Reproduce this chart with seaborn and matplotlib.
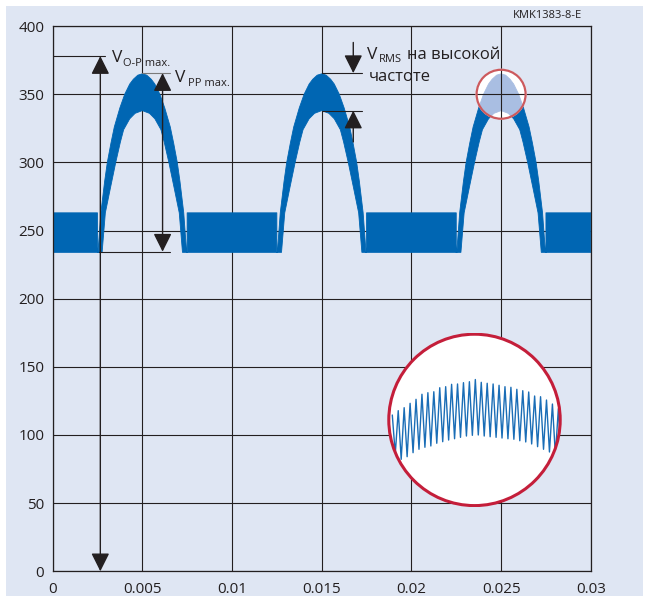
import numpy as np
import pandas as pd
import matplotlib
matplotlib.use("Agg")
import matplotlib.pyplot as plt
import seaborn as sns
from matplotlib.patches import Circle, Rectangle
from matplotlib.transforms import ScaledTranslation

# ---------------- data ----------------
x_ticks = [0, 0.005, 0.01, 0.015, 0.02, 0.025, 0.03]
x_tick_labels = ["0", "0.005", "0.01", "0.015", "0.02", "0.025", "0.03"]
y_ticks = [0, 50, 100, 150, 200, 250, 300, 350, 400]
y_tick_labels = ["0", "50", "100", "150", "200", "250", "300", "350", "400"]

hump_centers = [0.005, 0.015, 0.025]
flat_high = 263
flat_low = 234
flat_edge = 0.0025

# half-profile of the hump envelopes (offset from hump centre -> voltage)
upper_half_offsets = [0.00247, 0.00231, 0.0021, 0.00195, 0.00175, 0.00156, 0.00125,
                      0.00098, 0.0007, 0.0005, 0.00025, 0.0]
upper_half_values = [234, 263, 286, 300, 314, 326, 340, 350, 357.5, 361, 364, 365]
lower_half_offsets = [0.00224, 0.00206, 0.00178, 0.00148, 0.00122, 0.00104, 0.0007,
                      0.0004, 0.0]
lower_half_values = [234, 263, 281, 300, 315, 324, 332, 336, 338]

# magnified ripple in the inset (relative units, -1..1 across the circle)
zoom_peaks = [0.056, 0.106, 0.140, 0.190, 0.236, 0.294, 0.312, 0.323, 0.369, 0.381,
              0.408, 0.412, 0.427, 0.438, 0.463, 0.431, 0.420, 0.412, 0.397, 0.381,
              0.374, 0.351, 0.335, 0.320, 0.274, 0.266, 0.228, 0.182, 0.128]
zoom_troughs = [-0.391, -0.452, -0.422, -0.376, -0.337, -0.314, -0.299, -0.268, -0.250,
                -0.231, -0.216, -0.200, -0.185, -0.177, -0.173, -0.185, -0.193, -0.200,
                -0.208, -0.216, -0.222, -0.239, -0.253, -0.276, -0.307, -0.337, -0.368,
                -0.403, -0.437]

# full symmetric profiles
upper_offsets = [-d for d in upper_half_offsets] + upper_half_offsets[::-1][1:]
upper_values = upper_half_values + upper_half_values[::-1][1:]
lower_offsets = [-d for d in lower_half_offsets] + lower_half_offsets[::-1][1:]
lower_values = lower_half_values + lower_half_values[::-1][1:]

# ---------------- style ----------------
BG = "#dfe6f3"
INK = "#231f20"
BLUE = "#0066b3"
LIGHT = "#a9bee2"

sns.set_theme(style="white")
plt.rcParams["font.family"] = ["Open Sans", "DejaVu Sans"]

W, H, DPI = 649, 601, 100
fig = plt.figure(figsize=(W / DPI, H / DPI), dpi=DPI, facecolor="white")
fig.patches.append(Rectangle((6 / W, 5 / H), 637 / W, 590 / H, transform=fig.transFigure,
                             facecolor=BG, edgecolor="none", zorder=-10))

ax = fig.add_axes([52.6 / W, 1 - 571.3 / H, 538.2 / W, 545.2 / H])
ax.set_facecolor(BG)
ax.set_xlim(0, 0.03)
ax.set_ylim(0, 400)
ax.set_xticks(x_ticks, x_tick_labels)
ax.set_yticks(y_ticks, y_tick_labels)
ax.tick_params(length=0, labelsize=11, labelcolor=INK)
ax.tick_params(axis="x", pad=8)
ax.tick_params(axis="y", pad=6)
ax.set_axisbelow(True)
ax.grid(True, color=INK, lw=0.8)
for s in ax.spines.values():
    s.set_color(INK)
    s.set_linewidth(0.9)
    s.set_visible(True)


# ---------------- band (signal envelope) ----------------
def hump_upper(c):
    xs = [c - flat_edge, c - flat_edge] + [c + d for d in upper_offsets] + [c + flat_edge, c + flat_edge]
    ys = [flat_high, flat_low] + upper_values + [flat_low, flat_high]
    return xs, ys


def hump_lower(c):
    xs = [c + flat_edge] + [c + d for d in lower_offsets[::-1]] + [c - flat_edge]
    ys = [flat_low] + lower_values[::-1] + [flat_low]
    return xs, ys


px_, py_ = [0.0], [flat_high]
for c in hump_centers:
    xs, ys = hump_upper(c)
    px_ += xs
    py_ += ys
px_ += [0.03, 0.03]
py_ += [flat_high, flat_low]
for c in hump_centers[::-1]:
    xs, ys = hump_lower(c)
    px_ += xs
    py_ += ys
px_.append(0.0)
py_.append(flat_low)
ax.fill(px_, py_, facecolor=BLUE, edgecolor=BLUE, lw=0.6, joinstyle="round", zorder=2)

# ---------------- small magnifier circle on third hump ----------------
mark_c = hump_centers[2]
mark_v = 350
r_in = 24.5 / DPI
trans = fig.dpi_scale_trans + ScaledTranslation(mark_c, mark_v, ax.transData)
ax.add_patch(Circle((0, 0), r_in + 0.01, transform=trans, facecolor="white",
                    edgecolor="none", zorder=2.05))
clip_c = Circle((0, 0), r_in, transform=trans)
ux, uy = [mark_c + d for d in upper_offsets], list(upper_values)
lx, ly = [mark_c + d for d in lower_offsets[::-1]], lower_values[::-1]
lp = ax.fill(ux + lx, uy + ly, facecolor=LIGHT, edgecolor=LIGHT, lw=0.6, zorder=2.1)[0]
lp.set_clip_path(clip_c)
for xt in x_ticks:
    ln = ax.axvline(xt, color=INK, lw=0.8, zorder=2.15)
    ln.set_clip_path(clip_c)
for yt in y_ticks:
    ln = ax.axhline(yt, color=INK, lw=0.8, zorder=2.15)
    ln.set_clip_path(clip_c)
ax.add_patch(Circle((0, 0), r_in, transform=trans, fill=False, edgecolor="#cc5a5e",
                    lw=1.6, zorder=2.3))

# ---------------- annotations ----------------
aprops = dict(arrowstyle="<|-|>,head_length=0.4,head_width=0.2", mutation_scale=28,
              lw=1.0, color=INK, shrinkA=0, shrinkB=0)
sprops = dict(arrowstyle="-|>,head_length=0.4,head_width=0.2", mutation_scale=28,
              lw=1.0, color=INK, shrinkA=0, shrinkB=0)

# V O-P max
ax.plot([0, 0.00292], [378, 378], color=INK, lw=0.8, zorder=3)
ax.annotate("", xy=(0.00266, 0), xytext=(0.00266, 378), arrowprops=aprops, zorder=3)
ax.text(0.00331, 374, "V", fontsize=12.5, color=INK, ha="left", va="baseline", zorder=4)
ax.text(0.00395, 370.9, "O-P max.", fontsize=8, color=INK, ha="left", va="baseline", zorder=4)

# V PP max
ax.plot([0.005, 0.00654], [365.5, 365.5], color="#7a7a7a", lw=0.8, zorder=3)
ax.plot([0.0026, 0.00654], [234.5, 234.5], color=INK, lw=0.8, zorder=3)
ax.annotate("", xy=(0.00613, 234.5), xytext=(0.00613, 365.5), arrowprops=aprops, zorder=3)
ax.text(0.00682, 359.3, "V", fontsize=12.5, color=INK, ha="left", va="baseline", zorder=4)
ax.text(0.00755, 356.2, "PP max.", fontsize=8, color=INK, ha="left", va="baseline", zorder=4)

# V RMS
ax.plot([0.015, 0.01723], [365.5, 365.5], color=INK, lw=0.8, zorder=3)
ax.plot([0.015, 0.01723], [338, 338], color=INK, lw=0.8, zorder=3)
ax.annotate("", xy=(0.01676, 365.5), xytext=(0.01676, 388), arrowprops=sprops, zorder=3)
ax.annotate("", xy=(0.01676, 338), xytext=(0.01676, 315), arrowprops=sprops, zorder=3)
ax.text(0.01751, 375.8, "V", fontsize=12.5, color=INK, ha="left", va="baseline", zorder=4)
ax.text(0.01818, 373.6, "RMS", fontsize=8, color=INK, ha="left", va="baseline", zorder=4)
ax.text(0.01975, 375.8, "на высокой", fontsize=12, color=INK, ha="left", va="baseline", zorder=4)
ax.text(0.0176, 359.9, "частоте", fontsize=12, color=INK, ha="left", va="baseline", zorder=4)

fig.text(582 / W, 1 - 15 / H, "KMK1383-8-E", fontsize=8, color=INK, ha="right", va="center")

# ---------------- big inset with magnified ripple ----------------
ax_in = fig.add_axes([387.3 / W, 1 - 507.1 / H, 174.4 / W, 174.4 / H])
ax_in.set_axis_off()
ax_in.set_xlim(-1.686, 57.13)
ax_in.set_ylim(-1, 1)
disc = Circle((0.5, 0.5), 0.4914, transform=ax_in.transAxes, facecolor="white",
              edgecolor="none", zorder=1)
ax_in.add_patch(disc)
vals = []
for p, t in zip(zoom_peaks, zoom_troughs):
    vals += [p, t]
zig = pd.DataFrame({"k": np.arange(len(vals)), "v": vals})
sns.lineplot(data=zig, x="k", y="v", ax=ax_in, sort=False, estimator=None,
             color="#1a6db6", lw=1.0, zorder=2)
for ln in ax_in.get_lines():
    ln.set_clip_path(disc)
ax_in.add_patch(Circle((0.5, 0.5), 0.4914, transform=ax_in.transAxes, fill=False,
                       edgecolor="#c41e3a", lw=2.2, zorder=3))
ax_in.set_xlabel("")
ax_in.set_ylabel("")

fig.savefig("out.png", dpi=DPI, facecolor="white")
